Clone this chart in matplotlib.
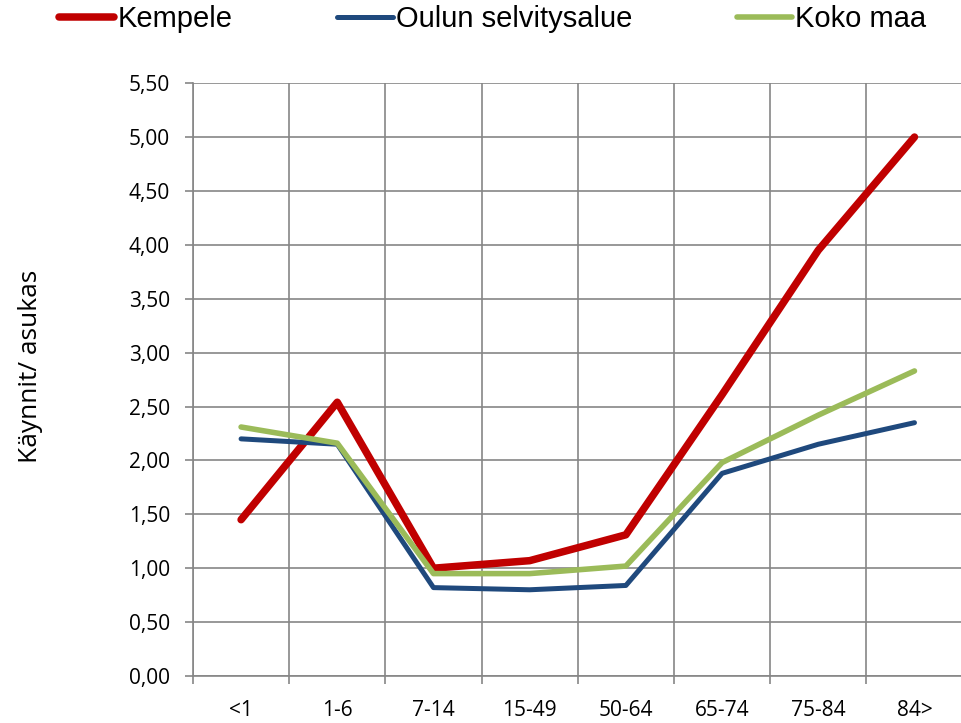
import matplotlib
matplotlib.use("Agg")
import matplotlib.pyplot as plt
from matplotlib.ticker import FuncFormatter, FixedLocator

categories = ['<1', '1-6', '7-14', '15-49', '50-64', '65-74', '75-84', '84>']
kempele = [1.45, 2.54, 1.00, 1.07, 1.31, 2.61, 3.95, 5.00]
oulu = [2.20, 2.15, 0.82, 0.80, 0.84, 1.88, 2.15, 2.35]
koko_maa = [2.31, 2.16, 0.95, 0.95, 1.02, 1.98, 2.42, 2.83]

plt.rcParams['font.family'] = ['Open Sans', 'DejaVu Sans']

fig = plt.figure(figsize=(9.62, 7.23), dpi=100)
ax = fig.add_axes([0.2006, 0.065, 0.8, 0.82])

x = list(range(len(categories)))
ax.plot(x, kempele, color='#C00000', lw=5.4, solid_capstyle='round', label='Kempele', zorder=3)
ax.plot(x, oulu, color='#1F497D', lw=3.6, solid_capstyle='round', label='Oulun selvitysalue', zorder=3)
ax.plot(x, koko_maa, color='#9BBB59', lw=4.0, solid_capstyle='round', label='Koko maa', zorder=3)

ax.set_xlim(-0.5, len(categories) - 0.5)
ax.set_ylim(0, 5.5)
ax.set_yticks([i * 0.5 for i in range(12)])
ax.yaxis.set_major_formatter(FuncFormatter(lambda v, p: f'{v:.2f}'.replace('.', ',')))

# gridlines/ticks between categories, labels at the centres
ax.xaxis.set_major_locator(FixedLocator([i - 0.5 for i in range(len(categories) + 1)]))
ax.xaxis.set_minor_locator(FixedLocator(x))
ax.set_xticklabels([])
ax.set_xticklabels(categories, minor=True)
ax.tick_params(axis='x', which='major', length=5.8, width=1.2, color='#868686')
ax.tick_params(axis='x', which='minor', length=0, pad=17, labelsize=15)
ax.tick_params(axis='y', length=5.5, width=1.2, color='#868686', pad=11, labelsize=15)

ax.grid(True, which='major', color='#868686', lw=1.2)
for s in ['top', 'right']:
    ax.spines[s].set_visible(False)
for s in ['left', 'bottom']:
    ax.spines[s].set_color('#868686')
    ax.spines[s].set_linewidth(1.2)

ax.set_ylabel('Käynnit/ asukas', fontsize=19)
ax.yaxis.set_label_coords(-0.195, 0.523)

fig.legend(loc='upper left', bbox_to_anchor=(56 / 962, 0.997), ncol=3, frameon=False,
           prop={'family': ['Liberation Sans', 'DejaVu Sans'], 'size': 21},
           handlelength=1.9, handletextpad=0.1, columnspacing=3.6,
           borderpad=0.1, borderaxespad=0)

fig.savefig('out.png', dpi=100)
